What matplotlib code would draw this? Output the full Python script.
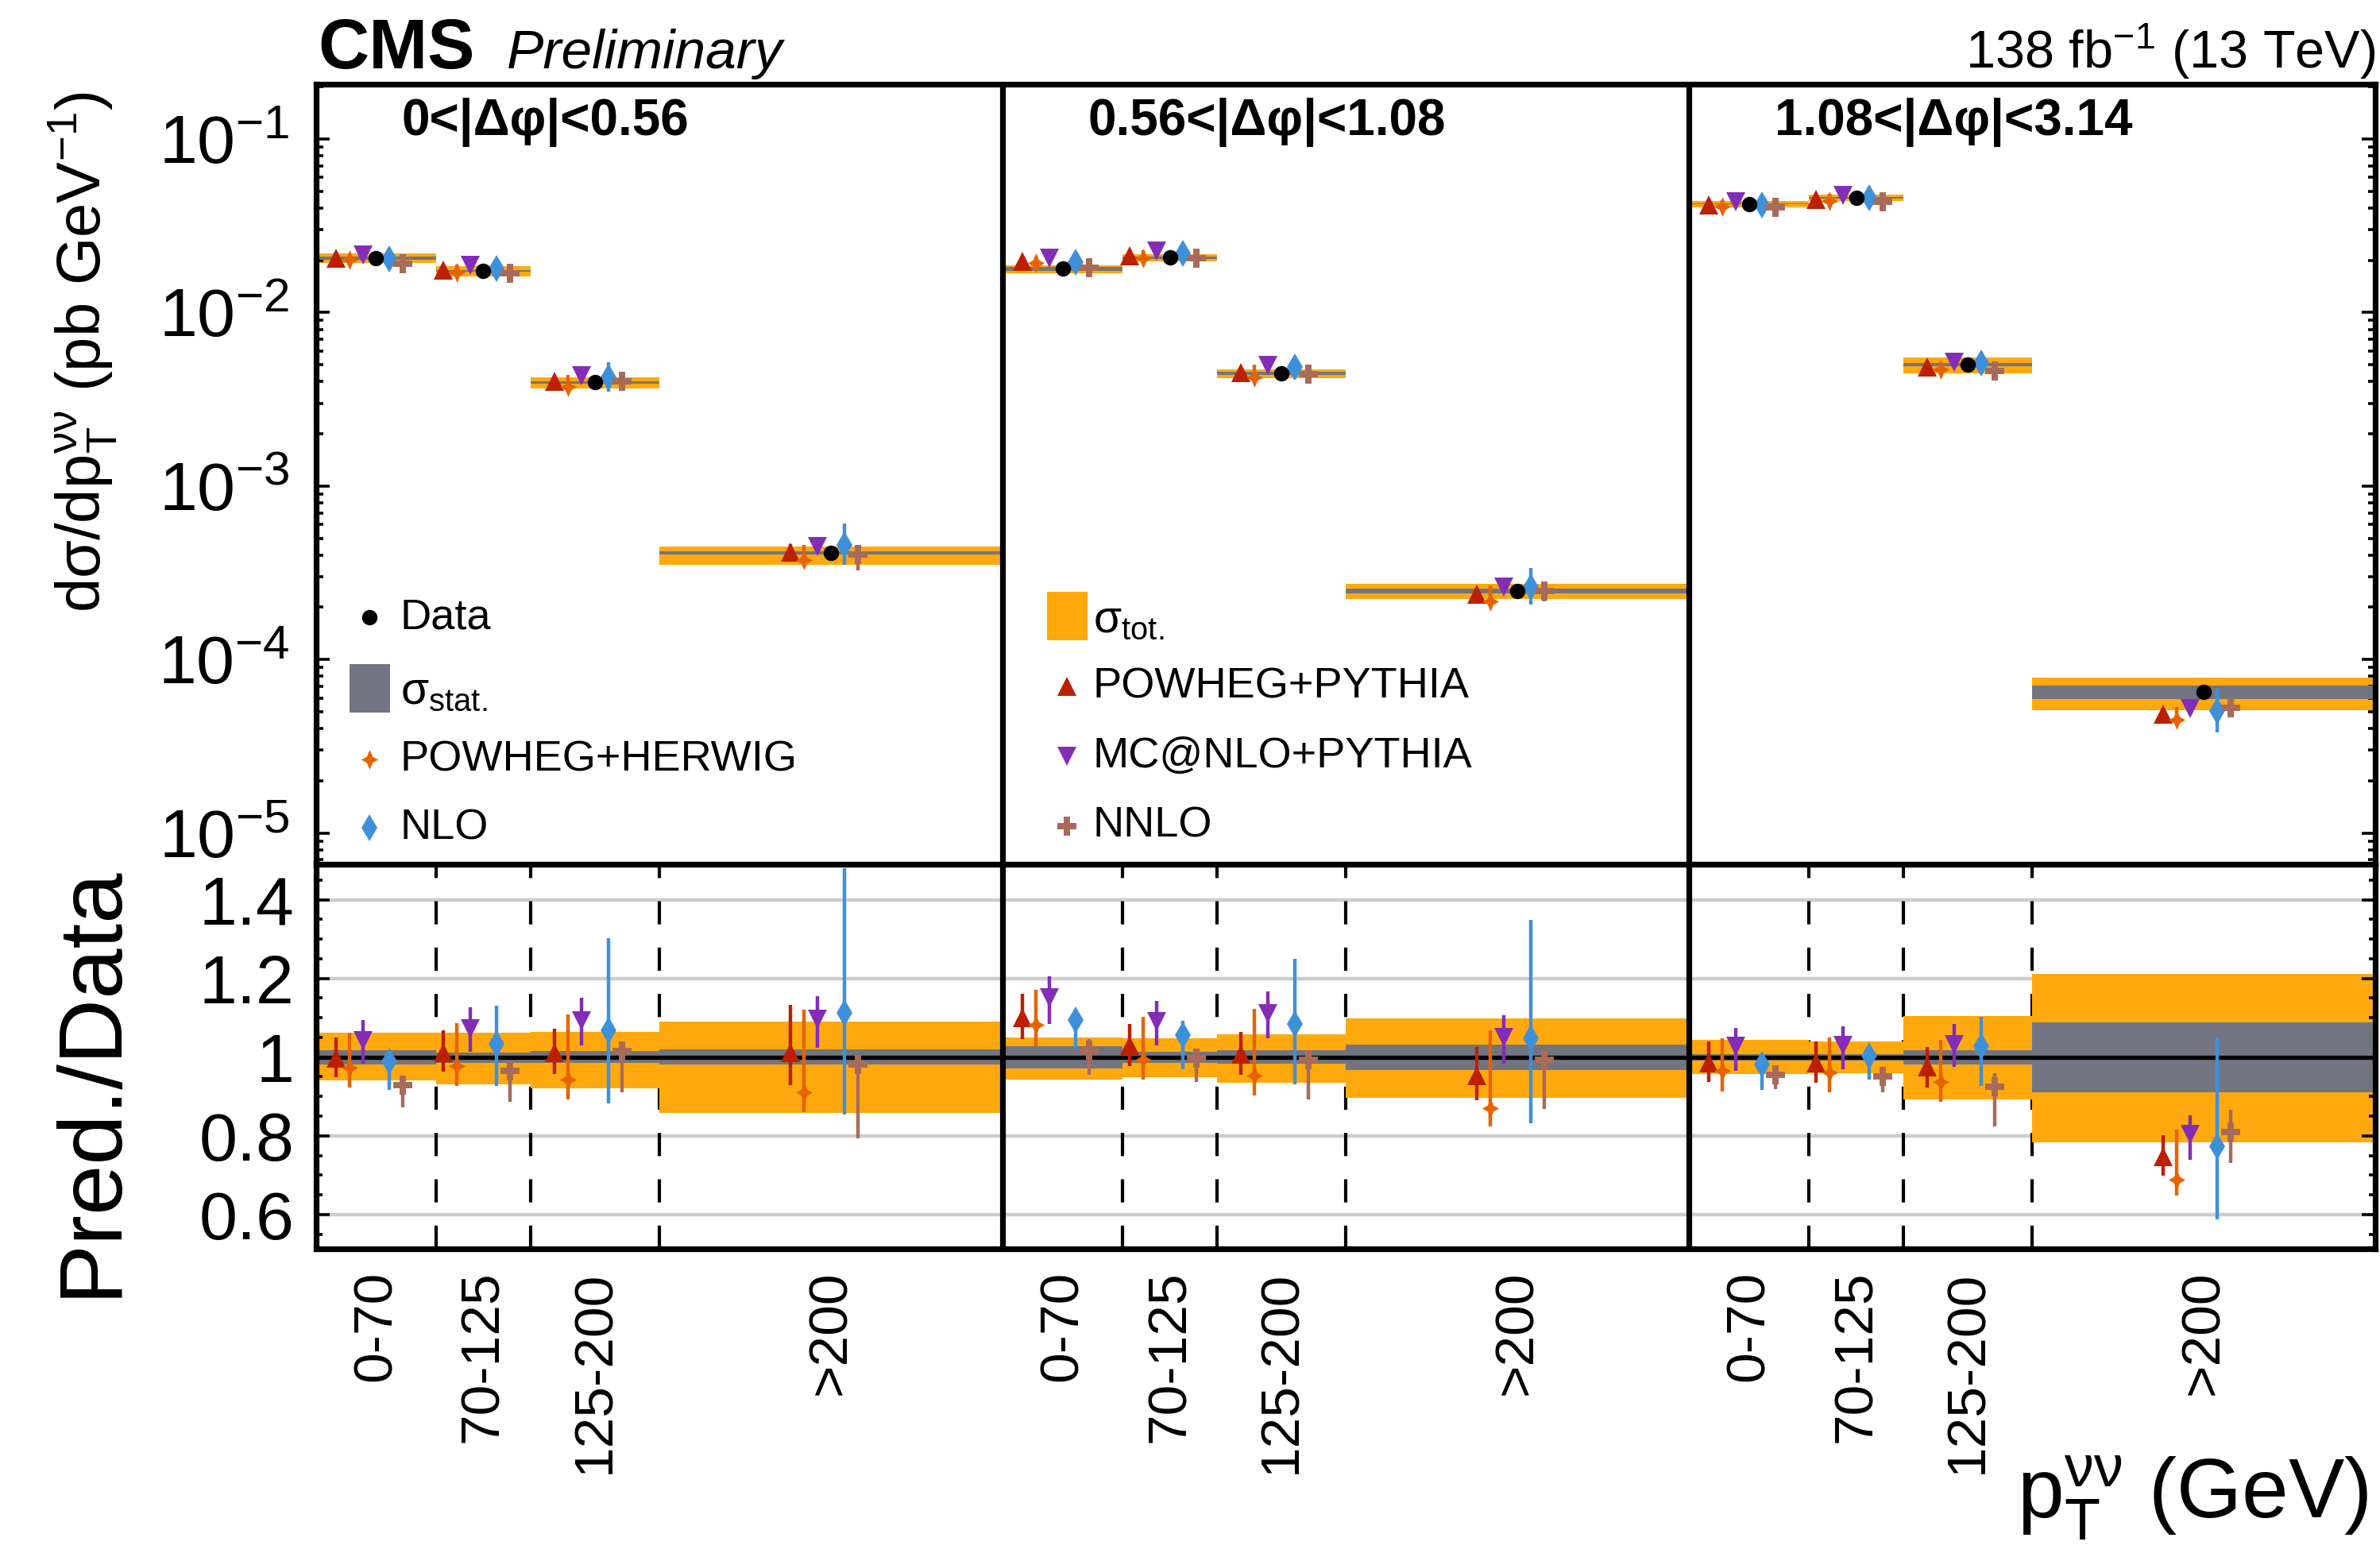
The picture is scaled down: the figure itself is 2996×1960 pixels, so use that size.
import numpy as np
import matplotlib
matplotlib.use("Agg")
import matplotlib.pyplot as plt
from matplotlib.patches import Rectangle
from matplotlib.path import Path
from matplotlib.ticker import FixedLocator, MultipleLocator, NullFormatter, LogLocator
import matplotlib.transforms as mtransforms

plt.rcParams['font.family'] = ['Liberation Sans', 'DejaVu Sans']
plt.rcParams['mathtext.fontset'] = 'custom'
plt.rcParams['mathtext.rm'] = 'Liberation Sans'
plt.rcParams['mathtext.it'] = 'Liberation Sans:italic'
plt.rcParams['mathtext.bf'] = 'Liberation Sans:bold'

# Data
dphi_labels = ["0<|Δφ|<0.56", "0.56<|Δφ|<1.08", "1.08<|Δφ|<3.14"]
bin_labels = ["0-70", "70-125", "125-200", ">200"]
bin_edges = [0, 70, 125, 200, 400]   # last bin drawn up to 400 GeV

# measured cross section (pb/GeV), 3 dphi slices x 4 pT bins
data_xsec = [0.0206, 0.0174, 0.00396, 4.10e-4,
             0.01786, 0.0207, 0.00446, 2.49e-4,
             0.0423, 0.0458, 0.00500, 6.50e-5]

# relative uncertainty bands (fraction of data)
tot_hi = [1.061, 1.061, 1.064, 1.091, 1.050, 1.048, 1.058, 1.098, 1.044, 1.039, 1.105, 1.211]
tot_lo = [0.941, 0.931, 0.920, 0.858, 0.943, 0.948, 0.935, 0.897, 0.957, 0.960, 0.893, 0.784]
stat_hi = [1.018, 1.012, 1.016, 1.020, 1.027, 1.013, 1.017, 1.031, 1.007, 1.007, 1.018, 1.088]
stat_lo = [0.982, 0.985, 0.985, 0.981, 0.972, 0.985, 0.983, 0.968, 0.991, 0.992, 0.982, 0.910]

# predictions / data, with upper and lower ends of the theory band
powheg_pythia = [0.997, 1.012, 1.012, 1.012, 1.101, 1.029, 1.007, 0.952, 0.985, 0.985, 0.975, 0.747]
powheg_pythia_hi = [1.049, 1.069, 1.073, 1.133, 1.160, 1.084, 1.063, 1.026, 1.039, 1.039, 1.026, 0.802]
powheg_pythia_lo = [0.948, 0.963, 0.958, 0.928, 1.046, 0.977, 0.955, 0.890, 0.936, 0.935, 0.923, 0.699]

powheg_herwig = [0.974, 0.977, 0.943, 0.910, 1.082, 0.994, 0.952, 0.871, 0.965, 0.962, 0.936, 0.689]
powheg_herwig_hi = [1.061, 1.086, 1.108, 1.120, 1.172, 1.103, 1.123, 1.069, 1.048, 1.050, 1.044, 0.815]
powheg_herwig_lo = [0.923, 0.926, 0.893, 0.861, 1.027, 0.942, 0.903, 0.824, 0.913, 0.910, 0.886, 0.649]

mcatnlo_pythia = [1.042, 1.073, 1.093, 1.096, 1.151, 1.090, 1.110, 1.050, 1.027, 1.029, 1.032, 0.804]
mcatnlo_pythia_hi = [1.095, 1.126, 1.150, 1.155, 1.205, 1.143, 1.167, 1.106, 1.074, 1.079, 1.085, 0.853]
mcatnlo_pythia_lo = [0.984, 1.014, 1.029, 1.024, 1.084, 1.029, 1.048, 0.983, 0.965, 0.970, 0.975, 0.738]

nlo = [0.989, 1.034, 1.069, 1.112, 1.095, 1.055, 1.084, 1.048, 0.981, 1.003, 1.028, 0.773]
nlo_hi = [1.010, 1.130, 1.303, 1.480, 1.120, 1.093, 1.250, 1.348, 1.000, 1.020, 1.102, 1.049]
nlo_lo = [0.916, 0.926, 0.883, 0.854, 1.022, 0.970, 0.931, 0.831, 0.916, 0.943, 0.927, 0.587]

nnlo = [0.929, 0.965, 1.016, 0.981, 1.018, 0.997, 0.994, 0.993, 0.954, 0.950, 0.925, 0.810]
nnlo_hi = [0.952, 0.987, 1.038, 1.002, 1.046, 1.018, 1.016, 1.014, 0.974, 0.972, 0.960, 0.866]
nnlo_lo = [0.873, 0.886, 0.911, 0.794, 0.955, 0.936, 0.893, 0.868, 0.918, 0.910, 0.823, 0.730]

# colours (CMS palette)
c_tot = '#ffa90e'
c_stat = '#717581'

# 4-point star, a bit taller than wide
star = Path([(0, 1), (0.3, 0.3), (0.85, 0), (0.3, -0.3), (0, -1),
             (-0.3, -0.3), (-0.85, 0), (-0.3, 0.3), (0, 1)], closed=True)

models = [
    ("POWHEG+PYTHIA", powheg_pythia, powheg_pythia_hi, powheg_pythia_lo, '#bd1f01', '^', 8.8, -23.4),
    ("POWHEG+HERWIG", powheg_herwig, powheg_herwig_hi, powheg_herwig_lo, '#e76300', star, 9.0, -15.6),
    ("MC@NLO+PYTHIA", mcatnlo_pythia, mcatnlo_pythia_hi, mcatnlo_pythia_lo, '#832db6', 'v', 8.8, -7.8),
    ("NLO", nlo, nlo_hi, nlo_lo, '#3f90da', 'd', 8.8, 7.8),
    ("NNLO", nnlo, nnlo_hi, nnlo_lo, '#a96b59', 'P', 8.5, 15.6),
]

# bin geometry
npanel = len(dphi_labels)
pw = bin_edges[-1]
lo_e = np.array(bin_edges[:-1], dtype=float)
hi_e = np.array(bin_edges[1:], dtype=float)
x_lo = np.concatenate([lo_e + i * pw for i in range(npanel)])
x_hi = np.concatenate([hi_e + i * pw for i in range(npanel)])
centers = 0.5 * (x_lo + x_hi)
widths = x_hi - x_lo

data = np.array(data_xsec)

fig = plt.figure(figsize=(14.98, 9.8), dpi=200)
ax = fig.add_axes([0.1328, 0.4449, 0.8652, 0.5010])
rax = fig.add_axes([0.1328, 0.1980, 0.8652, 0.2469])

# ---- upper panel ----
ax.bar(centers, data * (np.array(tot_hi) - np.array(tot_lo)), bottom=data * np.array(tot_lo),
       width=widths, color=c_tot, lw=0, zorder=1)
ax.bar(centers, data * (np.array(stat_hi) - np.array(stat_lo)), bottom=data * np.array(stat_lo),
       width=widths, color=c_stat, lw=0, zorder=2)

for name, r, rhi, rlo, col, mk, ms, off in models:
    y = data * np.array(r)
    yerr = [y - data * np.array(rlo), data * np.array(rhi) - y]
    ax.errorbar(centers + off, y, yerr=yerr, fmt='none', ecolor=col, elinewidth=1.6, zorder=3)
    ax.plot(centers + off, y, ls='none', marker=mk, ms=ms, color=col, mew=0, zorder=4)
ax.plot(centers, data, ls='none', marker='o', ms=7, color='black', mew=0, zorder=5)

ax.set_yscale('log')
ax.set_ylim(6.6e-6, 0.207)
ax.set_xlim(0, npanel * pw)
ax.yaxis.set_minor_locator(LogLocator(base=10, subs=np.arange(2, 10)))
ax.yaxis.set_minor_formatter(NullFormatter())
ax.tick_params(axis='y', which='major', direction='in', length=6, width=1.3,
               left=True, right=True, labelsize=31, pad=12)
ax.tick_params(axis='y', which='minor', direction='in', length=3.2, width=1.3,
               left=True, right=True)
ax.tick_params(axis='x', which='both', bottom=False, top=False, labelbottom=False)

trans = mtransforms.blended_transform_factory(ax.transData, ax.transAxes)
for i, lab in enumerate(dphi_labels):
    ax.text(i * pw + 50, 0.983, lab, transform=trans, ha='left', va='top',
            fontsize=23, fontweight='bold')

# ---- ratio panel ----
for g in [0.6, 0.8, 1.2, 1.4]:
    rax.axhline(g, color='#cccccc', lw=1.6, zorder=0)
inner = [e + i * pw for i in range(npanel) for e in bin_edges[1:-1]]
for e in inner:
    rax.axvline(e, color='black', lw=1.5, ls=(0, (7, 7)), zorder=0.5)

rax.bar(centers, np.array(tot_hi) - np.array(tot_lo), bottom=tot_lo, width=widths,
        color=c_tot, lw=0, zorder=1)
rax.bar(centers, np.array(stat_hi) - np.array(stat_lo), bottom=stat_lo, width=widths,
        color=c_stat, lw=0, zorder=2)
rax.axhline(1.0, color='black', lw=1.9, zorder=2.5)

for name, r, rhi, rlo, col, mk, ms, off in models:
    r = np.array(r)
    yerr = [r - np.array(rlo), np.array(rhi) - r]
    rax.errorbar(centers + off, r, yerr=yerr, fmt='none', ecolor=col, elinewidth=1.6, zorder=3)
    rax.plot(centers + off, r, ls='none', marker=mk, ms=ms, color=col, mew=0, zorder=4)

rax.set_xlim(0, npanel * pw)
rax.set_ylim(0.513, 1.49)
rax.yaxis.set_major_locator(FixedLocator([0.6, 0.8, 1.0, 1.2, 1.4]))
rax.set_yticklabels(["0.6", "0.8", "1", "1.2", "1.4"])
rax.yaxis.set_minor_locator(MultipleLocator(0.05))
rax.tick_params(axis='y', which='major', direction='in', length=6, width=1.3,
                left=True, right=True, labelsize=31, pad=10)
rax.tick_params(axis='y', which='minor', direction='in', length=3, width=1.3,
                left=True, right=True)
rax.set_xticks(centers)
rax.set_xticklabels(bin_labels * npanel, rotation=90, fontsize=25)
rax.tick_params(axis='x', which='both', length=0, pad=10, top=False)

for a in (ax, rax):
    for s in a.spines.values():
        s.set_linewidth(2.6)
    for i in range(1, npanel):
        a.axvline(i * pw, color='black', lw=2.6, zorder=6)

# ---- legends ----
def leg_marker(x, y, **kw):
    ax.plot([x], [y], transform=ax.transAxes, clip_on=False, ls='none', mew=0, **kw)

lfs = 19.5
rows_l = [0.3167, 0.226, 0.1344, 0.0468]
leg_marker(0.0258, rows_l[0], marker='o', ms=7, color='black')
ax.text(0.0409, rows_l[0], "Data", transform=ax.transAxes, va='center', fontsize=lfs)
ax.add_patch(Rectangle((0.0162, 0.1945), 0.0197, 0.0621, transform=ax.transAxes,
                       color=c_stat, lw=0))
ax.text(0.0409, rows_l[1] - 0.005, r"$\mathrm{σ}_{\mathrm{stat.}}$", transform=ax.transAxes,
        va='center', fontsize=lfs + 1)
leg_marker(0.0258, rows_l[2], marker=star, ms=9, color='#e76300')
ax.text(0.0409, rows_l[2], "POWHEG+HERWIG", transform=ax.transAxes, va='center', fontsize=lfs)
leg_marker(0.0258, rows_l[3], marker='d', ms=8.8, color='#3f90da')
ax.text(0.0409, rows_l[3], "NLO", transform=ax.transAxes, va='center', fontsize=lfs)

rows_m = [0.3177, 0.228, 0.1385, 0.0489]
ax.add_patch(Rectangle((0.3549, 0.2872), 0.0197, 0.0621, transform=ax.transAxes,
                       color=c_tot, lw=0))
ax.text(0.3773, rows_m[0] - 0.005, r"$\mathrm{σ}_{\mathrm{tot.}}$", transform=ax.transAxes,
        va='center', fontsize=lfs + 1)
leg_marker(0.3646, rows_m[1], marker='^', ms=8.8, color='#bd1f01')
ax.text(0.3773, rows_m[1], "POWHEG+PYTHIA", transform=ax.transAxes, va='center', fontsize=lfs)
leg_marker(0.3646, rows_m[2], marker='v', ms=8.8, color='#832db6')
ax.text(0.3773, rows_m[2], "MC@NLO+PYTHIA", transform=ax.transAxes, va='center', fontsize=lfs)
leg_marker(0.3646, rows_m[3], marker='P', ms=8.5, color='#a96b59')
ax.text(0.3773, rows_m[3], "NNLO", transform=ax.transAxes, va='center', fontsize=lfs)

# ---- labels ----
fig.text(0.1335, 0.956, "CMS", fontsize=32, fontweight='bold', va='baseline')
fig.text(0.213, 0.956, "Preliminary", fontsize=25, fontstyle='italic', va='baseline')
fig.text(0.998, 0.956, r"138 fb$^{\mathrm{-1}}$ (13 TeV)", fontsize=24, ha='right', va='baseline')
fig.text(0.0345, 0.941, r"dσ/dp$_{\mathrm{T}}^{\mathrm{νν}}$ (pb GeV$^{\mathrm{-1}}$)",
         rotation=90, ha='center', va='top', fontsize=28)
fig.text(0.0387, 0.4444, "Pred./Data", rotation=90, ha='center', va='top', fontsize=41)
fig.text(0.995, 0.025, r"p$_{\mathrm{T}}^{\mathrm{νν}}$ (GeV)", ha='right', va='baseline',
         fontsize=38)

fig.savefig("out.png", dpi=200)
